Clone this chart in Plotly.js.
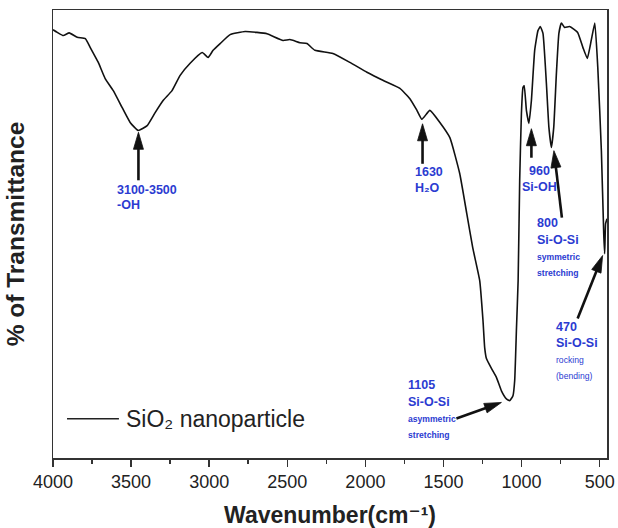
<!DOCTYPE html>
<html>
<head>
<meta charset="utf-8">
<script src="https://cdn.plot.ly/plotly-3.0.1.min.js"></script>
<style>html,body{margin:0;padding:0;background:#fff;}#chart{width:618px;height:528px;}</style>
</head>
<body>
<div id="chart"></div>
<script>
// Spectrum
const wavenumber = [4000,3972,3934,3896,3845,3793,3761,3710,3666,3614,3557,3506,3455,3397,3346,3295,3238,3186,3122,3045,3007,2975,2930,2866,2770,2694,2630,2527,2483,2419,2374,2323,2208,2099,1990,1888,1779,1715,1670,1638,1587,1523,1459,1396,1351,1313,1268,1247,1236,1225,1193,1161,1129,1097,1076,1055,1044,1033,1022,1012,1001,991,983,969,953,937,916,895,880,863,841,825,809,794,777,761,745,724,692,641,607,579,554,531,512,489,474,468,462,453];
const transmittance = [95.6,95.0,94.3,94.9,93.9,93.6,91.6,88.3,84.7,82.0,78.2,74.9,73.1,74.2,77.1,79.8,82.0,85.4,88.1,90.5,89.4,91.0,92.5,94.5,95.2,95.0,94.7,93.2,93.4,92.7,92.5,91.0,90.3,88.3,86.1,84.3,82.5,80.2,77.6,75.6,77.6,74.9,71.5,63.5,54.6,47.0,39.6,30.7,24.6,22.2,20.0,18.0,15.0,13.2,12.8,13.9,17.3,28.5,39.6,62.0,76.9,82.7,83.1,77.6,74.7,79.8,91.0,95.4,96.3,94.8,83.6,73.8,69.3,73.8,85.8,94.8,97.1,96.1,96.3,95.0,91.6,89.2,93.2,97.1,87.2,68.6,50.1,45.6,52.3,53.4];
const seriesName = "SiO₂ nanoparticle";
const xTickVals = [4000, 3500, 3000, 2500, 2000, 1500, 1000, 500];

// Band labels
const bandLines = [
  ["3100-3500", "-OH"],
  ["1630", "H₂O"],
  ["960", "Si-OH"],
  ["800", "Si-O-Si", "symmetric", "stretching"],
  ["470", "Si-O-Si", "rocking", "(bending)"],
  ["1105", "Si-O-Si", "asymmetric", "stretching"]
];
// arrow tips (wavenumber, transmittance) and tail offsets in px
const tipW = [3453, 1634, 937, 793, 481, 1129];
const tipT = [72.7, 74.6, 73.5, 68.6, 45.2, 12.4];
const tailAx = [0, 0, 0, 8, -25, -45];
const tailAy = [48, 40, 29, 67, 63, 16];
// label anchors
const labelW = [3603, 1695, 888, 914, 792, 1740];
const labelAnchor = ["left", "left", "center", "left", "left", "left"];
const labelT = [
  [59.8, 56.5],
  [63.8, 60.3],
  [64.1, 60.5],
  [52.5, 48.7, 44.9, 41.4],
  [29.2, 25.7, 21.9, 18.3],
  [16.3, 12.5, 8.7, 5.1]
];

const FONT = "Liberation Sans, Arial, Helvetica, DejaVu Sans, sans-serif";
const BLUE = "#2b3bd1";

const traces = [
  {
    x: wavenumber, y: transmittance, name: seriesName,
    type: "scatter", mode: "lines",
    line: {color: "#111", width: 1.6, shape: "spline", smoothing: 0.4},
    showlegend: false, hoverinfo: "x+y"
  }
];

const shapes = [{
  type: "line", xref: "paper", yref: "paper",
  x0: 0.0253, x1: 0.119, y0: 0.0877, y1: 0.0877,
  line: {color: "#222", width: 1.6}
}];
// arrows (shaft + head), anchored at the tips, sized in pixels
const HEAD_LEN = 17, HEAD_HALF = 5;
for (let i = 0; i < tipW.length; i++) {
  const dx = tailAx[i], dy = -tailAy[i];          // shape pixel space: y up
  const len = Math.hypot(dx, dy);
  const ux = dx / len, uy = dy / len;
  const px = -uy, py = ux;
  const bx = ux * HEAD_LEN, by = uy * HEAD_LEN;
  shapes.push({
    type: "line", xref: "x", yref: "y",
    xsizemode: "pixel", ysizemode: "pixel",
    xanchor: tipW[i], yanchor: tipT[i],
    x0: ux * (HEAD_LEN - 2), y0: uy * (HEAD_LEN - 2),
    x1: dx, y1: dy,
    line: {color: "#111", width: 2.6}
  });
  const f = v => v.toFixed(2);
  shapes.push({
    type: "path", xref: "x", yref: "y",
    xsizemode: "pixel", ysizemode: "pixel",
    xanchor: tipW[i], yanchor: tipT[i],
    path: "M0,0L" + f(bx + px * HEAD_HALF) + "," + f(by + py * HEAD_HALF) +
          "L" + f(bx - px * HEAD_HALF) + "," + f(by - py * HEAD_HALF) + "Z",
    fillcolor: "#111", line: {color: "#111", width: 0.8}
  });
}

const annotations = [];
for (let i = 0; i < bandLines.length; i++) {
  bandLines[i].forEach((t, j) => {
    const small = j >= 2;
    const regular = (i === 4 && j >= 2);
    annotations.push({
      x: labelW[i], y: labelT[i][j], xref: "x", yref: "y",
      xanchor: labelAnchor[i], yanchor: "middle", showarrow: false,
      text: regular ? t : "<b>" + t + "</b>",
      font: {family: FONT, size: small ? 8.6 : 12.5, color: BLUE}
    });
  });
}
// legend text
annotations.push({
  x: 0.128, y: 0.087, xref: "paper", yref: "paper", xanchor: "left", yanchor: "middle",
  showarrow: false, text: seriesName, font: {family: FONT, size: 23, color: "#222"}
});

const layout = {
  width: 618, height: 528,
  margin: {l: 53, r: 11, t: 10, b: 70},
  paper_bgcolor: "#fff", plot_bgcolor: "#fff",
  font: {family: FONT, color: "#222"},
  xaxis: {
    range: [4000, 453], tickmode: "array", tickvals: xTickVals,
    ticks: "outside", ticklen: 7, tickwidth: 1.5, tickcolor: "#333",
    minor: {dtick: 250, tick0: 0, ticks: "outside", ticklen: 4, tickwidth: 1.5, tickcolor: "#333", showgrid: false},
    showline: true, mirror: true, linewidth: 1.5, linecolor: "#333",
    showgrid: false, zeroline: false,
    tickfont: {family: FONT, size: 18, color: "#222"},
    title: {text: "<b>Wavenumber(cm⁻¹)</b>", font: {family: FONT, size: 23, color: "#222"}, standoff: 17}
  },
  yaxis: {
    range: [0, 100], tickmode: "array", tickvals: [], ticktext: [],
    showticklabels: false, ticks: "",
    showline: true, mirror: true, linewidth: 1.5, linecolor: "#333",
    showgrid: false, zeroline: false,
    title: {text: "<b>% of Transmittance</b>", font: {family: FONT, size: 24.5, color: "#222"}, standoff: 20}
  },
  shapes: shapes,
  annotations: annotations,
  showlegend: false
};

Plotly.newPlot("chart", traces, layout, {displayModeBar: false, staticPlot: true});
</script>
</body>
</html>
